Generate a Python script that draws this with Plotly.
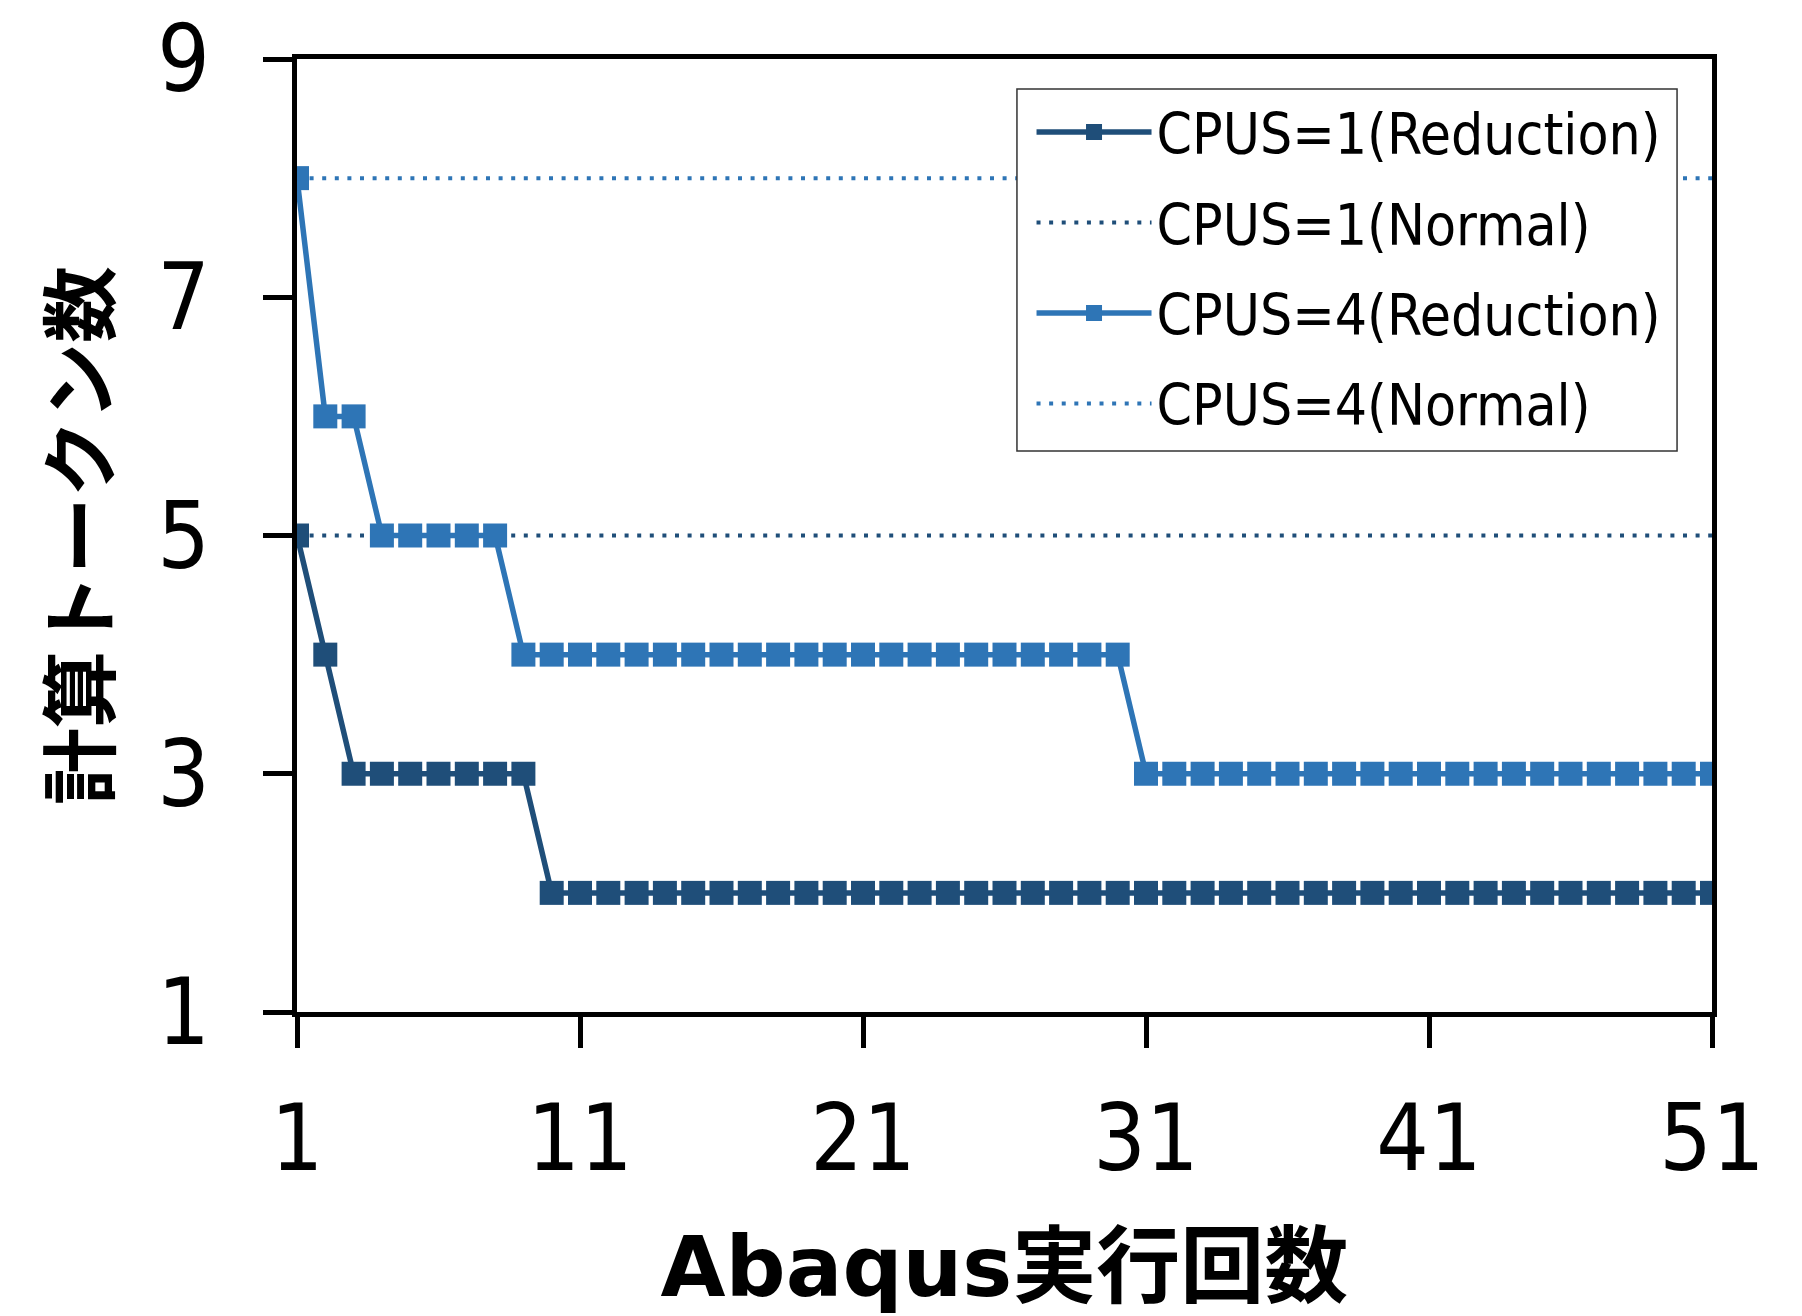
import plotly.graph_objects as go

runs = [1, 2, 3, 4, 5, 6, 7, 8, 9, 10, 11, 12, 13, 14, 15, 16, 17, 18, 19, 20,
        21, 22, 23, 24, 25, 26, 27, 28, 29, 30, 31, 32, 33, 34, 35, 36, 37, 38, 39, 40,
        41, 42, 43, 44, 45, 46, 47, 48, 49, 50, 51]
cpus1_reduction = [5, 4, 3, 3, 3, 3, 3, 3, 3, 2, 2, 2, 2, 2, 2, 2, 2, 2, 2, 2,
                   2, 2, 2, 2, 2, 2, 2, 2, 2, 2, 2, 2, 2, 2, 2, 2, 2, 2, 2, 2,
                   2, 2, 2, 2, 2, 2, 2, 2, 2, 2, 2]
cpus4_reduction = [8, 6, 6, 5, 5, 5, 5, 5, 4, 4, 4, 4, 4, 4, 4, 4, 4, 4, 4, 4,
                   4, 4, 4, 4, 4, 4, 4, 4, 4, 4, 3, 3, 3, 3, 3, 3, 3, 3, 3, 3,
                   3, 3, 3, 3, 3, 3, 3, 3, 3, 3, 3]
normal_x = [1, 51]
cpus1_normal = [5, 5]
cpus4_normal = [8, 8]

series_names = ["CPUS=1(Reduction)", "CPUS=1(Normal)", "CPUS=4(Reduction)", "CPUS=4(Normal)"]
x_ticks = [1, 11, 21, 31, 41, 51]
y_ticks = [1, 3, 5, 7, 9]
x_title = "Abaqus実行回数"
y_title = "計算トークン数"

DARK = "#1F4E79"
LIGHT = "#2E75B6"
FONT = "DejaVu Sans Condensed, DejaVu Sans, Noto Sans CJK JP"
TFONT = "DejaVu Sans, Noto Sans CJK JP"
DOT = "4px,8.6px"

fig = go.Figure()
fig.add_trace(go.Scatter(x=runs, y=cpus1_reduction, name=series_names[0], mode="lines+markers",
                         legendgroup="a",
                         line=dict(color=DARK, width=5.5),
                         marker=dict(symbol="square", size=24, color=DARK)))
fig.add_trace(go.Scatter(x=normal_x, y=cpus1_normal, name=series_names[1], mode="lines",
                         legendgroup="b",
                         line=dict(color=DARK, width=4, dash=DOT)))
fig.add_trace(go.Scatter(x=runs, y=cpus4_reduction, name=series_names[2], mode="lines+markers",
                         legendgroup="c",
                         line=dict(color=LIGHT, width=5.5),
                         marker=dict(symbol="square", size=24, color=LIGHT)))
fig.add_trace(go.Scatter(x=normal_x, y=cpus4_normal, name=series_names[3], mode="lines",
                         legendgroup="d",
                         line=dict(color=LIGHT, width=4, dash=DOT)))

# legend frame (white box covering the plot, like the original legend)
fig.add_shape(type="rect", xref="paper", yref="paper",
              x0=0.5088, x1=0.9753, y0=0.5887, y1=0.9685,
              fillcolor="white", line=dict(color="#333333", width=1.5), layer="above")

fig.update_layout(
    width=1802, height=1316,
    margin=dict(l=297, r=90, t=59, b=304),
    paper_bgcolor="white", plot_bgcolor="white",
    font=dict(family=FONT, color="black"),
    showlegend=True,
    legend=dict(x=0.5191, y=0.9687, xanchor="left", yanchor="top",
                bgcolor="rgba(0,0,0,0)", borderwidth=0,
                font=dict(family=FONT, size=56.5, color="black"),
                itemwidth=115, traceorder="grouped", tracegroupgap=14),
    xaxis=dict(range=[1, 51], tickvals=x_ticks, ticktext=[str(v) for v in x_ticks],
               automargin=False, ticklabeloverflow="allow",
               showgrid=False, zeroline=False, showline=True, linecolor="black", linewidth=4.5,
               mirror=True, ticks="outside", ticklen=31, tickwidth=4.5, tickcolor="black",
               tickfont=dict(family=FONT, size=92, color="black"), ticklabelstandoff=12,
               title=dict(text=x_title, font=dict(family=TFONT, size=84, color="black", weight="bold"),
                          standoff=54)),
    yaxis=dict(range=[1, 9], tickvals=y_ticks, ticktext=[str(v) for v in y_ticks],
               automargin=False, ticklabeloverflow="allow",
               showgrid=False, zeroline=False, showline=True, linecolor="black", linewidth=4.5,
               mirror=True, ticks="outside", ticklen=29, tickwidth=4.5, tickcolor="black",
               tickfont=dict(family=FONT, size=92, color="black"), ticklabelstandoff=35,
               title=dict(text=y_title, font=dict(family=TFONT, size=77, color="black", weight="bold"),
                          standoff=24)),
)

fig.write_html("out.html", config={"displayModeBar": False},
               post_script="document.body.style.margin='0';")
